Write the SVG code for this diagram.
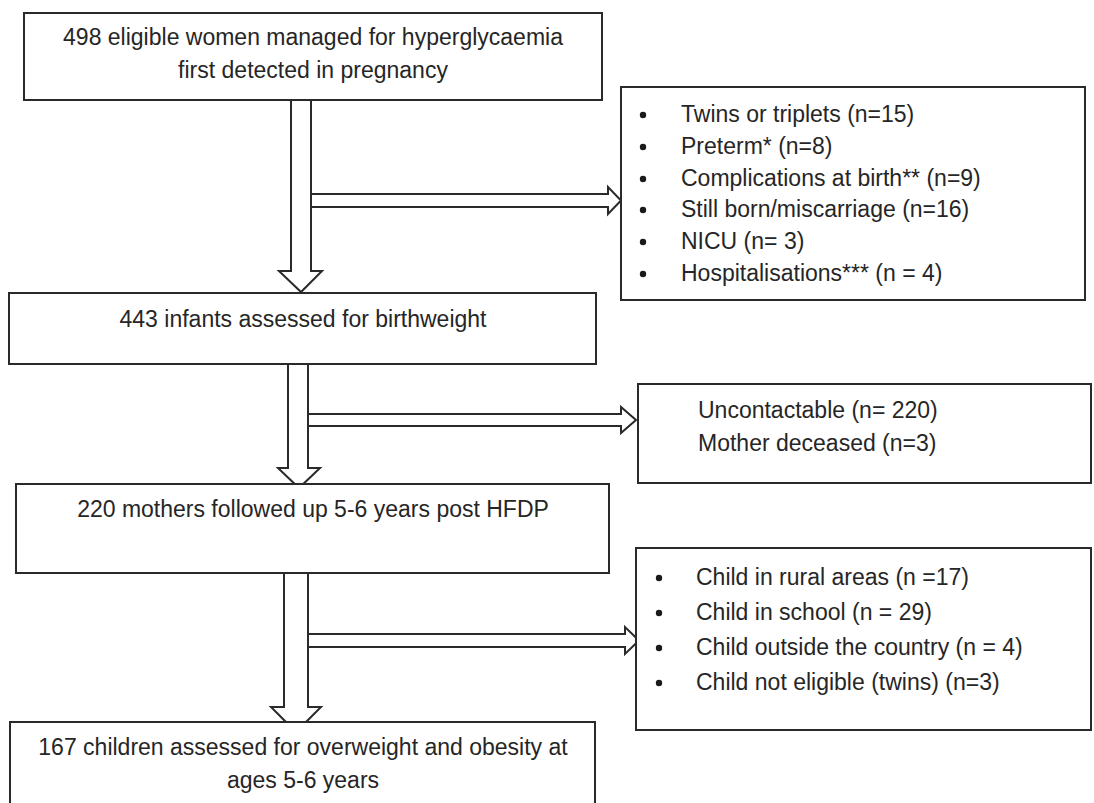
<svg xmlns="http://www.w3.org/2000/svg" width="1094" height="803" viewBox="0 0 1094 803">
  <style>
    .box { fill: #ffffff; stroke: #2a2a2a; stroke-width: 2; }
    .arrow { fill: #ffffff; stroke: #2a2a2a; stroke-width: 2; stroke-linejoin: miter; }
    .t { font-family: "Liberation Sans", Arial, sans-serif; font-size: 23px; fill: #262626; }
    .c { text-anchor: middle; }
    .dot { fill: #1a1a1a; }
  </style>
  <rect width="1094" height="803" fill="#ffffff"/>

  <!-- Block arrows between the stages -->
  <g id="connectors">
    <!-- stage 1 to stage 2 -->
    <polygon class="arrow" points="291,100 311,100 311,271 322,271 301,292 279,271 291,271"/>
    <polygon class="arrow" points="311,194 608,194 608,187 621,200.5 608,214 608,207 311,207"/>
    <!-- stage 2 to stage 3 -->
    <polygon class="arrow" points="288,364 308,364 308,468 320,468 299,488 278,468 288,468"/>
    <polygon class="arrow" points="308,414 621,414 621,407 636,420 621,433 621,426 308,426"/>
    <!-- stage 3 to stage 4 -->
    <polygon class="arrow" points="284,573 308,573 308,707 321,707 296,732 271,707 284,707"/>
    <polygon class="arrow" points="308,634 625,634 625,627 639,640.5 625,654 625,647 308,647"/>
  </g>

  <g id="eligible">
    <rect class="box" x="24" y="13" width="578" height="87"/>
    <text class="t c" x="313" y="45">498 eligible women managed for hyperglycaemia</text>
    <text class="t c" x="313" y="78">first detected in pregnancy</text>
  </g>

  <g id="excluded-birth">
    <rect class="box" x="621" y="87" width="464" height="213"/>
    <circle class="dot" cx="643" cy="115" r="3.2"/>
    <circle class="dot" cx="643" cy="147" r="3.2"/>
    <circle class="dot" cx="643" cy="179" r="3.2"/>
    <circle class="dot" cx="643" cy="210" r="3.2"/>
    <circle class="dot" cx="643" cy="242" r="3.2"/>
    <circle class="dot" cx="643" cy="274" r="3.2"/>
    <text class="t" x="681" y="122">Twins or triplets (n=15)</text>
    <text class="t" x="681" y="154">Preterm* (n=8)</text>
    <text class="t" x="681" y="186">Complications at birth** (n=9)</text>
    <text class="t" x="681" y="217">Still born/miscarriage (n=16)</text>
    <text class="t" x="681" y="249">NICU (n= 3)</text>
    <text class="t" x="681" y="281">Hospitalisations*** (n = 4)</text>
  </g>

  <g id="birthweight">
    <rect class="box" x="9" y="293" width="587" height="71"/>
    <text class="t c" x="303" y="327">443 infants assessed for birthweight</text>
  </g>

  <g id="lost-contact">
    <rect class="box" x="638" y="384" width="453" height="99"/>
    <text class="t" x="698" y="418">Uncontactable (n= 220)</text>
    <text class="t" x="698" y="451">Mother deceased (n=3)</text>
  </g>

  <g id="followed-up">
    <rect class="box" x="16" y="484" width="593" height="89"/>
    <text class="t c" x="313" y="517">220 mothers followed up 5-6 years post HFDP</text>
  </g>

  <g id="excluded-children">
    <rect class="box" x="636" y="548" width="455" height="182"/>
    <circle class="dot" cx="659" cy="578" r="3.2"/>
    <circle class="dot" cx="659" cy="613" r="3.2"/>
    <circle class="dot" cx="659" cy="648" r="3.2"/>
    <circle class="dot" cx="659" cy="683" r="3.2"/>
    <text class="t" x="696" y="585">Child in rural areas (n =17)</text>
    <text class="t" x="696" y="620">Child in school (n = 29)</text>
    <text class="t" x="696" y="655">Child outside the country (n = 4)</text>
    <text class="t" x="696" y="690">Child not eligible (twins) (n=3)</text>
  </g>

  <g id="assessed-children">
    <rect class="box" x="10" y="722" width="585" height="100"/>
    <text class="t c" x="303" y="755">167 children assessed for overweight and obesity at</text>
    <text class="t c" x="303" y="788">ages 5-6 years</text>
  </g>
</svg>
